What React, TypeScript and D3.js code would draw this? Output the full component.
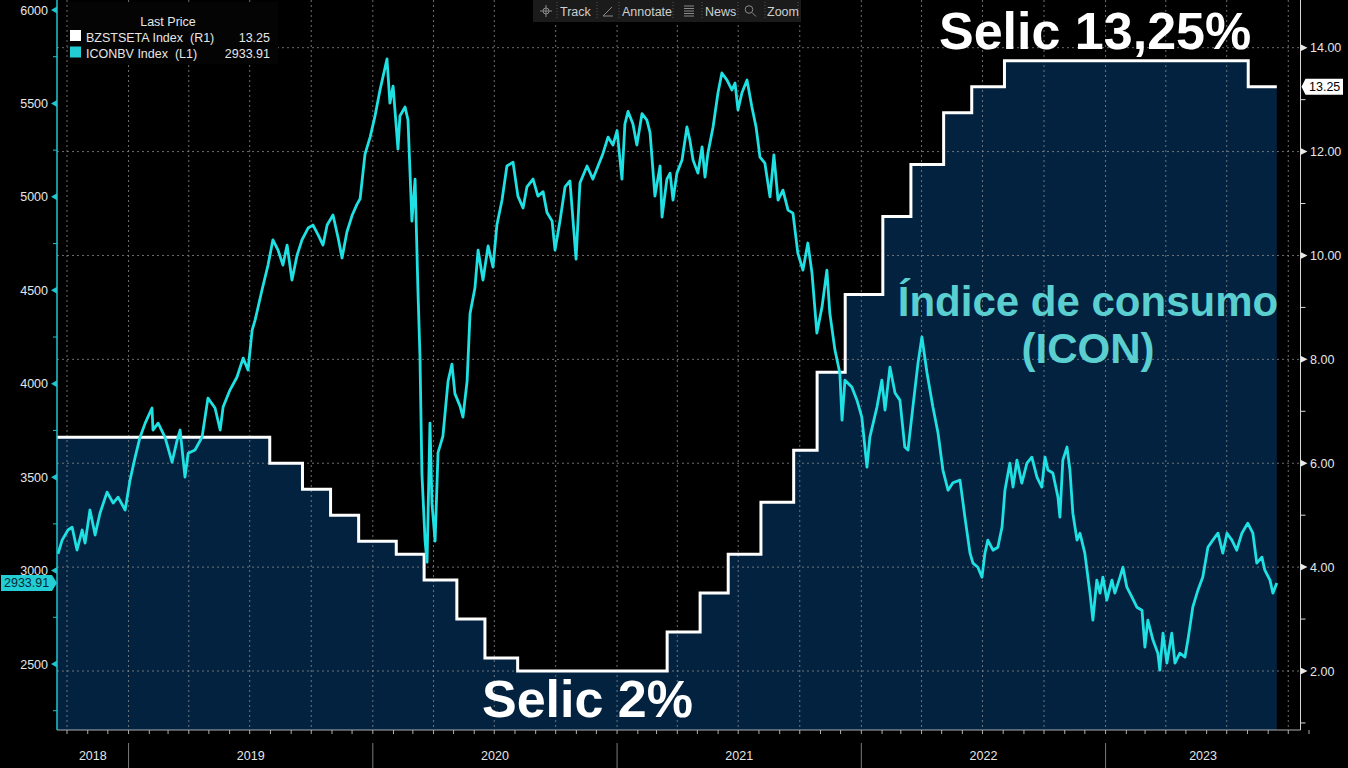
import React from 'react';
import * as d3 from 'd3';

const W = 1348;
const H = 768;

// ---- data ----
const yearLabels = ['2018', '2019', '2020', '2021', '2022', '2023'];
const leftTicks = [6000, 5500, 5000, 4500, 4000, 3500, 3000, 2500];
const leftMinor = [5750, 5250, 4750, 4250, 3750, 3250, 2750, 2250];
const rightTicks = [14, 12, 10, 8, 6, 4, 2];
const rightMinor = [13, 11, 9, 7, 5, 3, 1];

// Selic target (BZSTSETA), decimal year of change -> rate
const selicSeries: [number, number][] = [
  [2018.707, 6.5], [2019.578, 6.0], [2019.712, 5.5], [2019.827, 5.0], [2019.942, 4.5],
  [2020.096, 4.25], [2020.210, 3.75], [2020.344, 3.0], [2020.459, 2.25], [2020.593, 2.0],
  [2021.205, 2.75], [2021.340, 3.5], [2021.455, 4.25], [2021.589, 5.25], [2021.723, 6.25],
  [2021.819, 7.75], [2021.934, 9.25], [2022.088, 10.75], [2022.203, 11.75], [2022.337, 12.75],
  [2022.452, 13.25], [2022.586, 13.75], [2023.584, 13.25], [2023.701, 13.25],
];

// ICONNBV Index, decimal year -> level
const iconSeries: [number, number][] = [
  [2018.711, 3090], [2018.728, 3163], [2018.752, 3217], [2018.769, 3232], [2018.789, 3110],
  [2018.810, 3217], [2018.822, 3147], [2018.842, 3324], [2018.863, 3190], [2018.883, 3307],
  [2018.912, 3420], [2018.937, 3361], [2018.957, 3393], [2018.986, 3324], [2019.006, 3484],
  [2019.027, 3607], [2019.047, 3714], [2019.068, 3789], [2019.096, 3870], [2019.100, 3752],
  [2019.121, 3789], [2019.149, 3714], [2019.178, 3580], [2019.199, 3698], [2019.211, 3752],
  [2019.231, 3500], [2019.244, 3628], [2019.272, 3645], [2019.301, 3714], [2019.325, 3923],
  [2019.354, 3870], [2019.375, 3752], [2019.387, 3875], [2019.415, 3966], [2019.444, 4036],
  [2019.469, 4137], [2019.489, 4073], [2019.506, 4287], [2019.518, 4340], [2019.546, 4500],
  [2019.571, 4635], [2019.591, 4770], [2019.612, 4715], [2019.632, 4635], [2019.649, 4742],
  [2019.669, 4555], [2019.690, 4688], [2019.710, 4770], [2019.735, 4833], [2019.755, 4849],
  [2019.776, 4796], [2019.796, 4742], [2019.813, 4849], [2019.837, 4903], [2019.858, 4780],
  [2019.874, 4673], [2019.894, 4812], [2019.915, 4900], [2019.935, 4960], [2019.948, 4990],
  [2019.968, 5229], [2019.989, 5320], [2020.009, 5433], [2020.029, 5569], [2020.058, 5738],
  [2020.070, 5502], [2020.083, 5593], [2020.103, 5256], [2020.111, 5433], [2020.132, 5481],
  [2020.144, 5411], [2020.160, 4870], [2020.173, 5095], [2020.185, 4488], [2020.193, 4148],
  [2020.201, 3519], [2020.214, 3158], [2020.222, 3045], [2020.234, 3789], [2020.242, 3361],
  [2020.255, 3158], [2020.267, 3631], [2020.287, 3720], [2020.308, 4014], [2020.324, 4105],
  [2020.336, 3947], [2020.357, 3880], [2020.369, 3821], [2020.386, 4014], [2020.398, 4375],
  [2020.418, 4512], [2020.431, 4715], [2020.451, 4555], [2020.472, 4737], [2020.492, 4624],
  [2020.508, 4849], [2020.529, 4983], [2020.549, 5165], [2020.574, 5186], [2020.594, 5004],
  [2020.615, 4940], [2020.631, 5053], [2020.656, 5095], [2020.676, 5004], [2020.697, 5028],
  [2020.713, 4916], [2020.734, 4870], [2020.746, 4715], [2020.766, 4870], [2020.787, 5053],
  [2020.807, 5085], [2020.832, 4667], [2020.848, 5074], [2020.877, 5165], [2020.901, 5095],
  [2020.922, 5165], [2020.942, 5231], [2020.963, 5320], [2020.983, 5277], [2021.000, 5355],
  [2021.020, 5095], [2021.032, 5390], [2021.045, 5457], [2021.065, 5390], [2021.081, 5277],
  [2021.102, 5445], [2021.122, 5411], [2021.135, 5344], [2021.155, 5004], [2021.176, 5165],
  [2021.184, 4892], [2021.204, 5095], [2021.217, 5127], [2021.229, 4983], [2021.245, 5127],
  [2021.266, 5197], [2021.286, 5374], [2021.298, 5304], [2021.311, 5197], [2021.331, 5127],
  [2021.348, 5267], [2021.360, 5106], [2021.372, 5234], [2021.393, 5374], [2021.413, 5556],
  [2021.429, 5663], [2021.450, 5625], [2021.470, 5572], [2021.483, 5609], [2021.495, 5465],
  [2021.511, 5556], [2021.532, 5625], [2021.552, 5481], [2021.569, 5374], [2021.585, 5213],
  [2021.605, 5181], [2021.626, 5000], [2021.642, 5224], [2021.659, 4983], [2021.679, 5036],
  [2021.700, 4929], [2021.720, 4913], [2021.740, 4699], [2021.761, 4608], [2021.781, 4753],
  [2021.798, 4592], [2021.818, 4271], [2021.839, 4410], [2021.859, 4608], [2021.871, 4378],
  [2021.892, 4180], [2021.912, 4057], [2021.921, 3805], [2021.933, 4019], [2021.961, 3982],
  [2021.982, 3912], [2022.002, 3821], [2022.023, 3554], [2022.035, 3714], [2022.064, 3875],
  [2022.084, 4019], [2022.097, 3859], [2022.117, 4089], [2022.138, 3950], [2022.158, 3912],
  [2022.178, 3661], [2022.191, 3645], [2022.211, 3875], [2022.232, 4110], [2022.248, 4250],
  [2022.269, 4057], [2022.293, 3875], [2022.314, 3736], [2022.334, 3538], [2022.355, 3430],
  [2022.375, 3470], [2022.404, 3484], [2022.424, 3286], [2022.445, 3093], [2022.457, 3040],
  [2022.477, 3018], [2022.494, 2965], [2022.506, 3093], [2022.518, 3163], [2022.539, 3109],
  [2022.559, 3125], [2022.576, 3233], [2022.588, 3430], [2022.608, 3575], [2022.621, 3447],
  [2022.637, 3591], [2022.657, 3468], [2022.678, 3575], [2022.698, 3607], [2022.719, 3500],
  [2022.739, 3447], [2022.752, 3607], [2022.764, 3538], [2022.784, 3522], [2022.805, 3393],
  [2022.813, 3286], [2022.825, 3591], [2022.842, 3661], [2022.854, 3538], [2022.866, 3307],
  [2022.883, 3163], [2022.895, 3200], [2022.915, 3093], [2022.936, 2879], [2022.948, 2735],
  [2022.964, 2949], [2022.977, 2879], [2022.989, 2965], [2023.005, 2842], [2023.026, 2949],
  [2023.038, 2879], [2023.059, 2965], [2023.071, 3018], [2023.087, 2911], [2023.108, 2858],
  [2023.128, 2804], [2023.149, 2788], [2023.161, 2590], [2023.173, 2735], [2023.194, 2628],
  [2023.214, 2558], [2023.222, 2467], [2023.235, 2665], [2023.251, 2505], [2023.271, 2665],
  [2023.284, 2505], [2023.304, 2558], [2023.325, 2537], [2023.337, 2628], [2023.357, 2804],
  [2023.378, 2895], [2023.398, 2965], [2023.419, 3125], [2023.439, 3163], [2023.460, 3200],
  [2023.480, 3093], [2023.497, 3200], [2023.517, 3163], [2023.537, 3109], [2023.558, 3200],
  [2023.582, 3254], [2023.603, 3200], [2023.619, 3040], [2023.640, 3072], [2023.652, 3002],
  [2023.673, 2949], [2023.685, 2879], [2023.701, 2934],
];

const lastSelic = '13.25';
const lastIcon = '2933.91';

// ---- styling ----
const FONT = 'Liberation Sans, Arial, sans-serif';
const NAVY = '#02223f';
const CYAN = '#1fe0e2';
const CYAN_AXIS = '#1fc4cc';
const TEXT_CYAN = '#5bcfd0';
const GRID = '#8a8a8a';

const PL = 57;
const PR = 1300.5;
const PT = 0;
const PB = 730;

const decYear = (d: Date) => {
  const y = d.getFullYear();
  const a = new Date(y, 0, 1).getTime();
  const b = new Date(y + 1, 0, 1).getTime();
  return y + (d.getTime() - a) / (b - a);
};

export default function App() {
  const x = d3.scaleLinear().domain([2018.707, 2023.798]).range([PL, PR]);
  const yL = d3.scaleLinear().domain([6000, 2500]).range([10, 664]);
  const yR = d3.scaleLinear().domain([14, 2]).range([47.7, 671]);

  const months = d3.timeMonth.range(new Date(2018, 9, 1), new Date(2023, 10, 2));
  const quarterMonths = months.filter((m) => m.getMonth() % 3 === 0);
  const yearStarts = [2019, 2020, 2021, 2022, 2023];

  const selicArea = d3
    .area<[number, number]>()
    .x((d) => x(d[0]))
    .y0(PB)
    .y1((d) => yR(d[1]))
    .curve(d3.curveStepAfter)(selicSeries) as string;
  const selicLine = d3
    .line<[number, number]>()
    .x((d) => x(d[0]))
    .y((d) => yR(d[1]))
    .curve(d3.curveStepAfter)(selicSeries) as string;
  const iconLine = d3
    .line<[number, number]>()
    .x((d) => x(d[0]))
    .y((d) => yL(d[1]))(iconSeries) as string;

  const yearBounds = [PL, ...yearStarts.map((y) => x(y)), PR];

  const lastSelicY = yR(selicSeries[selicSeries.length - 1][1]);
  const lastIconY = yL(iconSeries[iconSeries.length - 1][1]);

  return (
    <svg
      width={W}
      height={H}
      style={{ position: 'absolute', left: 0, top: 0, display: 'block', background: '#000' }}
      fontFamily={FONT}
    >
      <rect x={0} y={0} width={W} height={H} fill="#000" />
      <defs>
        <clipPath id="plotClip">
          <rect x={PL} y={PT} width={PR - PL} height={PB - PT} />
        </clipPath>
      </defs>

      {/* Selic filled area */}
      <path d={selicArea} fill={NAVY} clipPath="url(#plotClip)" />

      {/* grid */}
      {rightTicks.map((v) => (
        <line key={'hg' + v} x1={PL} x2={PR} y1={yR(v)} y2={yR(v)} stroke={GRID} strokeWidth={1} strokeDasharray="2,3" opacity={0.8} />
      ))}
      {quarterMonths.map((m, i) => (
        <line key={'vg' + i} x1={x(decYear(m))} x2={x(decYear(m))} y1={PT} y2={PB} stroke={GRID} strokeWidth={1} strokeDasharray="2,3" opacity={0.8} />
      ))}

      {/* Selic line */}
      <path d={selicLine} fill="none" stroke="#fff" strokeWidth={3} clipPath="url(#plotClip)" />

      {/* ICON line */}
      <path d={iconLine} fill="none" stroke={CYAN} strokeWidth={2.8} strokeLinejoin="round" clipPath="url(#plotClip)" />

      {/* bottom axis */}
      <line x1={PL} x2={PR} y1={PB} y2={PB} stroke="#b0b0b0" strokeWidth={1.2} />
      {months.map((m, i) => (
        <line key={'mt' + i} x1={x(decYear(m))} x2={x(decYear(m))} y1={PB} y2={PB + 4} stroke="#b0b0b0" strokeWidth={1} />
      ))}
      {yearStarts.map((y) => (
        <line key={'ys' + y} x1={x(y)} x2={x(y)} y1={743} y2={768} stroke="#7a7a7a" strokeWidth={1} />
      ))}
      {yearLabels.map((lab, i) => (
        <text key={'yl' + lab} x={(yearBounds[i] + yearBounds[i + 1]) / 2} y={760} fill="#e6e6e6" fontSize={12.5} textAnchor="middle">
          {lab}
        </text>
      ))}

      {/* left axis */}
      <line x1={PL} x2={PL} y1={0} y2={PB} stroke={CYAN_AXIS} strokeWidth={1.5} />
      {leftTicks.map((v) => (
        <g key={'lt' + v}>
          <polygon points={`${PL - 6},${yL(v)} ${PL},${yL(v) - 3.5} ${PL},${yL(v) + 3.5}`} fill={CYAN_AXIS} />
          <text x={48} y={yL(v) + 4.5} fill="#e6e6e6" fontSize={12.5} textAnchor="end">
            {v}
          </text>
        </g>
      ))}
      {leftMinor.map((v) => (
        <line key={'lm' + v} x1={PL - 4} x2={PL} y1={yL(v)} y2={yL(v)} stroke={CYAN_AXIS} strokeWidth={1} />
      ))}
      <polygon
        points={`1,${lastIconY - 8} 52,${lastIconY - 8} 57,${lastIconY} 52,${lastIconY + 8} 1,${lastIconY + 8}`}
        fill="#22cdd4"
      />
      <text x={4} y={lastIconY + 4.5} fill="#042a33" fontSize={12.5}>
        {lastIcon}
      </text>

      {/* right axis */}
      <line x1={PR} x2={PR} y1={0} y2={PB} stroke="#d8d8d8" strokeWidth={1} />
      {rightTicks.map((v) => (
        <g key={'rt' + v}>
          <polygon points={`${PR},${yR(v) - 3.5} ${PR},${yR(v) + 3.5} ${PR + 7},${yR(v)}`} fill="#e8e8e8" />
          <text x={1310} y={yR(v) + 4.5} fill="#e6e6e6" fontSize={12.5}>
            {v.toFixed(2)}
          </text>
        </g>
      ))}
      {rightMinor.map((v) => (
        <line key={'rm' + v} x1={PR} x2={PR + 5} y1={yR(v)} y2={yR(v)} stroke="#d8d8d8" strokeWidth={1} />
      ))}
      <polygon
        points={`${PR + 1},${lastSelicY} ${PR + 5},${lastSelicY - 8} 1343,${lastSelicY - 8} 1343,${lastSelicY + 8} ${PR + 5},${lastSelicY + 8}`}
        fill="#ffffff"
      />
      <text x={1309} y={lastSelicY + 4.5} fill="#000" fontSize={12.5}>
        {lastSelic}
      </text>

      {/* legend */}
      <rect x={68} y={2} width={210} height={62} fill="#040404" />
      <text x={168} y={26} fill="#e6e6e6" fontSize={12.5} textAnchor="middle">
        Last Price
      </text>
      <rect x={70} y={30} width={11} height={11} fill="#ffffff" />
      <text x={86} y={41.5} fill="#e6e6e6" fontSize={12.5} style={{ whiteSpace: 'pre' }}>
        {'BZSTSETA Index  (R1)'}
      </text>
      <text x={270} y={41.5} fill="#e6e6e6" fontSize={12.5} textAnchor="end">
        {lastSelic}
      </text>
      <rect x={70} y={46.5} width={11} height={11} fill="#22cdd4" />
      <text x={86} y={57.5} fill="#e6e6e6" fontSize={12.5} style={{ whiteSpace: 'pre' }}>
        {'ICONBV Index  (L1)'}
      </text>
      <text x={270} y={57.5} fill="#e6e6e6" fontSize={12.5} textAnchor="end">
        {lastIcon}
      </text>

      {/* toolbar */}
      <g>
        <rect x={533} y={0} width={268} height={22} fill="#1b1b1b" />
        {[557, 597, 619, 673, 702, 738, 765, 798].map((sx, i) => (
          <line key={'tb' + i} x1={sx} x2={sx} y1={2} y2={20} stroke="#555" strokeDasharray="1,2" />
        ))}
        <g stroke="#8a8a8a" strokeWidth={1} fill="none">
          <circle cx={546} cy={11} r={3} />
          <line x1={540} x2={552} y1={11} y2={11} />
          <line x1={546} x2={546} y1={5} y2={17} />
        </g>
        <text x={560} y={16} fill="#cfcfcf" fontSize={12.5}>Track</text>
        <g stroke="#8a8a8a" strokeWidth={1} fill="none">
          <line x1={603} x2={612} y1={16} y2={7} />
          <line x1={603} x2={613} y1={16} y2={16} />
        </g>
        <text x={622} y={16} fill="#cfcfcf" fontSize={12.5}>Annotate</text>
        <g stroke="#8a8a8a" strokeWidth={1}>
          {[6, 8.5, 11, 13.5, 16].map((yy) => (
            <line key={'nl' + yy} x1={684} x2={694} y1={yy} y2={yy} />
          ))}
        </g>
        <text x={705} y={16} fill="#cfcfcf" fontSize={12.5}>News</text>
        <g stroke="#8a8a8a" strokeWidth={1} fill="none">
          <circle cx={749} cy={9.5} r={3.8} />
          <line x1={752} x2={756} y1={12.5} y2={16.5} />
        </g>
        <text x={767} y={16} fill="#cfcfcf" fontSize={12.5}>Zoom</text>
      </g>

      {/* annotations */}
      <text x={939} y={49} fill="#ffffff" fontSize={52} fontWeight="bold">
        Selic 13,25%
      </text>
      <text x={482} y={717} fill="#ffffff" fontSize={52} fontWeight="bold">
        Selic 2%
      </text>
      <text x={1088} y={316} fill={TEXT_CYAN} fontSize={42} fontWeight="bold" textAnchor="middle">
        Índice de consumo
      </text>
      <text x={1088} y={363} fill={TEXT_CYAN} fontSize={42} fontWeight="bold" textAnchor="middle">
        (ICON)
      </text>
    </svg>
  );
}
